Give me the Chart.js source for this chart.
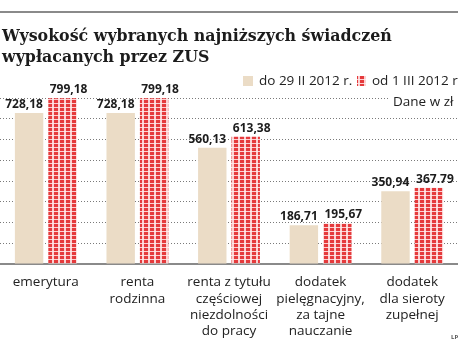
<!DOCTYPE html>
<html>
<head>
<meta charset="utf-8">
<script src="https://cdn.jsdelivr.net/npm/chart.js@4"></script>
<style>
html,body{margin:0;padding:0;background:#fff;}
#wrap{position:relative;width:458px;height:356px;}
</style>
</head>
<body>
<div id="wrap"><canvas id="c" width="458" height="356"></canvas></div>
<script>
const titleLines = ["Wysokość wybranych najniższych świadczeń", "wypłacanych przez ZUS"];
const categories = [
  ["emerytura"],
  ["renta", "rodzinna"],
  ["renta z tytułu", "częściowej", "niezdolności", "do pracy"],
  ["dodatek", "pielęgnacyjny,", "za tajne", "nauczanie"],
  ["dodatek", "dla sieroty", "zupełnej"]
];
const seriesNames = ["do 29 II 2012 r.", "od 1 III 2012 r."];
const valuesBefore = [728.18, 728.18, 560.13, 186.71, 350.94];
const valuesAfter = [799.18, 799.18, 613.38, 195.67, 367.79];
const labelsBefore = ["728,18", "728,18", "560,13", "186,71", "350,94"];
const labelsAfter = ["799,18", "799,18", "613,38", "195,67", "367.79"];
const unitNote = "Dane w zł";
const yMax = 800;
const yStep = 100;

const BEIGE = '#ebdcc6';
const RED = '#e53a3c';

function makePattern() {
  const p = document.createElement('canvas');
  p.width = 6; p.height = 4;
  const g = p.getContext('2d');
  g.fillStyle = RED; g.fillRect(0, 0, 6, 4);
  g.fillStyle = 'rgba(255,235,235,0.85)';
  g.fillRect(4, 0, 2, 4);
  g.fillRect(0, 3, 6, 1);
  return document.getElementById('c').getContext('2d').createPattern(p, 'repeat');
}
const redPattern = makePattern();

const overlay = {
  id: 'overlay',
  afterDraw(chart) {
    const ctx = chart.ctx;
    ctx.save();
    // top rule
    ctx.fillStyle = '#8a8a8a';
    ctx.fillRect(0, 11, 458, 2);
    // title, sized to span the reference width
    ctx.fillStyle = '#1c1c1c';
    ctx.font = 'bold 16px "DejaVu Serif"';
    const tw = ctx.measureText(titleLines[0]).width;
    const fs = 16 * 390 / tw;
    ctx.font = 'bold ' + fs.toFixed(2) + 'px "DejaVu Serif"';
    ctx.textBaseline = 'alphabetic';
    ctx.textAlign = 'left';
    ctx.fillText(titleLines[0], 2, 41);
    ctx.fillText(titleLines[1], 2, 62);
    // legend
    ctx.fillStyle = BEIGE;
    ctx.fillRect(243, 76, 10, 10);
    ctx.fillStyle = redPattern;
    ctx.fillRect(357, 76, 9, 10);
    ctx.font = '13.5px "Open Sans"';
    ctx.fillStyle = '#222';
    ctx.textBaseline = 'middle';
    ctx.fillText(seriesNames[0], 259, 81);
    ctx.fillText(seriesNames[1], 372, 81);
    // unit note with white background
    const w = ctx.measureText(unitNote).width;
    ctx.fillStyle = '#fff';
    ctx.fillRect(388, 94, w + 10, 16);
    ctx.fillStyle = '#222';
    ctx.fillText(unitNote, 393, 102);
    // credit
    ctx.font = 'bold 6px "Open Sans"';
    ctx.fillStyle = '#555';
    ctx.fillText('LP', 451, 337);
    ctx.restore();
  },
  afterDatasetsDraw(chart) {
    const ctx = chart.ctx;
    ctx.save();
    ctx.font = 'bold 12px "Open Sans"';
    ctx.fillStyle = '#1c1c1c';
    ctx.textAlign = 'center';
    ctx.textBaseline = 'alphabetic';
    const sets = [labelsBefore, labelsAfter];
    const shifts = [-5, 6];
    chart.data.datasets.forEach((ds, di) => {
      const meta = chart.getDatasetMeta(di);
      meta.data.forEach((bar, i) => {
        ctx.fillText(sets[di][i], bar.x + shifts[di], bar.y - 5);
      });
    });
    ctx.restore();
  }
};

new Chart(document.getElementById('c'), {
  type: 'bar',
  data: {
    labels: categories,
    datasets: [
      { label: seriesNames[0], data: valuesBefore, backgroundColor: BEIGE, categoryPercentage: 0.73, barPercentage: 0.85 },
      { label: seriesNames[1], data: valuesAfter, backgroundColor: redPattern, categoryPercentage: 0.73, barPercentage: 0.85 }
    ]
  },
  options: {
    responsive: false,
    animation: false,
    events: [],
    layout: { padding: { top: 98, left: 0, right: 0, bottom: 0 } },
    plugins: { legend: { display: false }, tooltip: { enabled: false }, title: { display: false } },
    scales: {
      x: {
        grid: { display: false },
        border: { display: true, color: '#8a8a8a', width: 2 },
        ticks: {
          color: '#222',
          font: { family: '"Open Sans"', size: 13.5, lineHeight: 1.22 },
          padding: 2,
          maxRotation: 0,
          autoSkip: false
        },
        afterFit(scale) { scale.height = 92; }
      },
      y: {
        min: 0,
        max: yMax,
        ticks: { display: false, stepSize: yStep },
        grid: {
          drawTicks: false,
          color: (c) => c.tick && c.tick.value === 0 ? 'rgba(0,0,0,0)' : '#7a7a7a',
          lineWidth: 1
        },
        border: { display: false, dash: [1, 2] },
        afterFit(scale) { scale.width = 0; }
      }
    }
  },
  plugins: [overlay]
});
</script>
</body>
</html>
